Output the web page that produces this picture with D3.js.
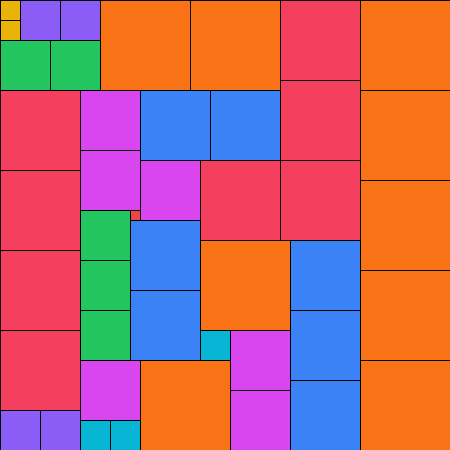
<!DOCTYPE html>
<html>
<head>
<meta charset="utf-8">
<script src="https://cdn.jsdelivr.net/npm/d3@7"></script>
<style>
body { margin: 0; background: #fff; }
</style>
</head>
<body>
<div id="chart"></div>
<script>
// partridge tiling, 45 x 45 units: n squares of side n, n = 1..9
var sizes = [9,9,9,9,9,9,9,9,9, 8,8,8,8,8,8,8,8, 7,7,7,7,7,7,7, 6,6,6,6,6,6, 5,5,5,5,5, 4,4,4,4, 3,3,3, 2,2, 1];
var xs = [10,19,36,36,36,36,36,20,14, 28,28,0,0,0,0,20,28, 14,21,13,13,29,29,29, 8,8,14,23,23,8, 0,5,8,8,8, 2,6,0,4, 20,8,11, 0,0, 13];
var ys = [0,0,0,9,18,27,36,24,36, 0,8,9,17,25,33,16,16, 9,9,22,29,24,31,38, 9,15,16,33,39,36, 4,4,21,26,31, 0,0,41,41, 33,42,42, 0,2, 21];
var sideKeys = [9, 8, 7, 6, 5, 4, 3, 2, 1];
var palette = ["#f97316", "#f43f5e", "#3b82f6", "#d946ef", "#22c55e", "#8b5cf6", "#06b6d4", "#eab308", "#ef4444"];

var w = 450, h = 450;

var svg = d3.select("#chart")
	.append("svg")
	.attr("width", w)
	.attr("height", h);

var g = svg.append("g")
	.attr("transform", "translate(0.5,0.5)");

var x = d3.scaleLinear().domain([0, 45]).range([0, w]);
var y = d3.scaleLinear().domain([0, 45]).range([0, h]);
var color = d3.scaleOrdinal().domain(sideKeys).range(palette);

var squares = sizes.map(function(s, i) {
	return { size: s, x: xs[i], y: ys[i] };
});

g.selectAll("rect")
	.data(squares)
	.enter()
	.append("rect")
	.attr("x", function(d) { return x(d.x); })
	.attr("y", function(d) { return y(d.y); })
	.attr("width", function(d) { return x(d.size) - x(0); })
	.attr("height", function(d) { return y(d.size) - y(0); })
	.attr("fill", function(d) { return color(d.size); })
	.attr("stroke", "#000")
	.attr("stroke-width", 1);
</script>
</body>
</html>
